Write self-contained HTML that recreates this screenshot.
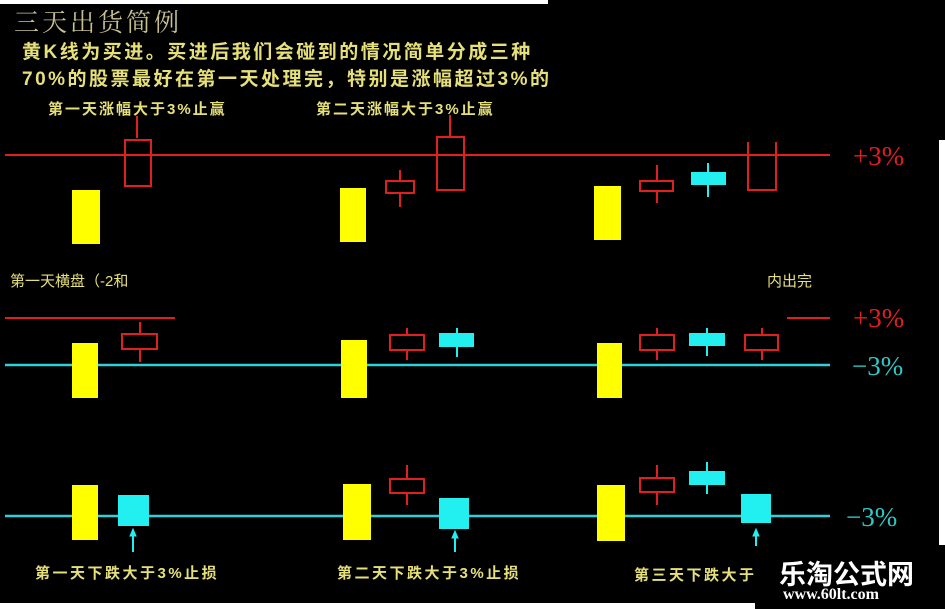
<!DOCTYPE html>
<html><head><meta charset="utf-8"><style>
body{margin:0;background:#000;width:945px;height:609px;overflow:hidden;position:relative;font-family:"Liberation Sans","Noto Sans CJK SC",sans-serif}
.t{position:absolute;white-space:nowrap;color:#e6e07a;font-weight:bold}
</style></head><body>
<svg width="945" height="609" style="position:absolute;left:0;top:0">
<rect x="0" y="0" width="548" height="4" fill="#fff"/>
<rect x="939" y="140" width="6" height="405" fill="#fff"/>
<rect x="0" y="603" width="755" height="6" fill="#fff"/>
<g stroke="#e02020" stroke-width="2" fill="none">
<line x1="5" y1="155" x2="830" y2="155"/>
<line x1="137" y1="116" x2="137" y2="138"/><rect x="125" y="140" width="26" height="46"/>
<line x1="400" y1="170" x2="400" y2="207"/><rect x="386" y="181" width="28" height="12" fill="#000"/>
<line x1="450" y1="115" x2="450" y2="136"/><rect x="437" y="137" width="27" height="53"/>
<line x1="657" y1="165" x2="657" y2="203"/><rect x="640" y="181" width="33" height="10" fill="#000"/>
<polyline points="748,142 748,190 776,190 776,142"/>
<line x1="5" y1="318" x2="175" y2="318"/><line x1="787" y1="318" x2="830" y2="318"/>
<line x1="140" y1="322" x2="140" y2="362"/><rect x="122" y="334" width="35" height="15" fill="#000"/>
<line x1="407" y1="328" x2="407" y2="360"/><rect x="390" y="335" width="34" height="15" fill="#000"/>
<line x1="657" y1="328" x2="657" y2="360"/><rect x="640" y="335" width="34" height="15" fill="#000"/>
<line x1="762" y1="328" x2="762" y2="360"/><rect x="745" y="335" width="33" height="15" fill="#000"/>
<line x1="407" y1="465" x2="407" y2="505"/><rect x="390" y="479" width="34" height="14" fill="#000"/>
<line x1="657" y1="465" x2="657" y2="505"/><rect x="640" y="478" width="34" height="14" fill="#000"/>
</g>
<g stroke="#30d0d8" stroke-width="2.5">
<line x1="5" y1="365" x2="830" y2="365"/>
<line x1="5" y1="516" x2="830" y2="516"/>
</g>
<g fill="#ffff00">
<rect x="72" y="190" width="28" height="54"/><rect x="340" y="188" width="26" height="54"/><rect x="594" y="186" width="27" height="54"/>
<rect x="72" y="343" width="26" height="55"/><rect x="341" y="340" width="26" height="58"/><rect x="597" y="343" width="25" height="55"/>
<rect x="72" y="485" width="26" height="55"/><rect x="343" y="484" width="28" height="56"/><rect x="597" y="485" width="28" height="56"/>
</g>
<g fill="#22f0f0" stroke="#22f0f0" stroke-width="2">
<line x1="708" y1="163" x2="708" y2="197"/><rect x="692" y="173" width="33" height="11"/>
<line x1="457" y1="328" x2="457" y2="357"/><rect x="440" y="334" width="33" height="12"/>
<line x1="707" y1="328" x2="707" y2="356"/><rect x="690" y="334" width="34" height="11"/>
<line x1="707" y1="462" x2="707" y2="494"/><rect x="690" y="472" width="34" height="12"/>
<rect x="119" y="496" width="29" height="29"/><rect x="440" y="499" width="28" height="29"/><rect x="742" y="495" width="28" height="27"/>
<line x1="133" y1="533" x2="133" y2="552"/><line x1="455" y1="535" x2="455" y2="552"/><line x1="756" y1="532" x2="756" y2="546"/>
<polygon points="133,529 130,536 136,536" stroke-width="1"/><polygon points="455,531 452,538 458,538" stroke-width="1"/><polygon points="756,529 753,536 759,536" stroke-width="1"/>
</g>
<g font-family="Liberation Serif,serif" font-size="27">
<text x="853" y="165" fill="#e02020">+3%</text>
<text x="853" y="327" fill="#e02020">+3%</text>
<text x="852" y="375" fill="#30c8c8">−3%</text>
<text x="846" y="526" fill="#30c8c8">−3%</text>
</g>
</svg>
<div class="t" style="left:14px;top:3px;font-size:25px;font-weight:normal;color:#c8c090;font-family:'Noto Serif CJK SC',serif;letter-spacing:3px">三天出货简例</div>
<div class="t" style="left:22px;top:37px;font-size:19px;letter-spacing:2.5px">黄K线为买进。买进后我们会碰到的情况简单分成三种</div>
<div class="t" style="left:22px;top:64px;font-size:19px;letter-spacing:2.5px">70%的股票最好在第一天处理完，特别是涨幅超过3%的</div>
<div class="t" style="left:48px;top:98px;font-size:15px;letter-spacing:2px">第一天涨幅大于3%止赢</div>
<div class="t" style="left:316px;top:98px;font-size:15px;letter-spacing:2px">第二天涨幅大于3%止赢</div>
<div class="t" style="left:10px;top:270px;font-size:15px;font-weight:normal">第一天横盘（-2和</div>
<div class="t" style="left:767px;top:270px;font-size:15px;font-weight:normal">内出完</div>
<div class="t" style="left:35px;top:562px;font-size:15px;letter-spacing:2.5px">第一天下跌大于3%止损</div>
<div class="t" style="left:337px;top:562px;font-size:15px;letter-spacing:2.5px">第二天下跌大于3%止损</div>
<div class="t" style="left:634px;top:564px;font-size:15px;letter-spacing:2.5px">第三天下跌大于</div>
<div class="t" style="left:779px;top:553px;font-size:27px;color:#fff">乐淘公式网</div>
<div class="t" style="left:783px;top:586px;font-size:16px;color:#fff;font-family:'Liberation Serif',serif">www.60lt.com</div>
</body></html>
